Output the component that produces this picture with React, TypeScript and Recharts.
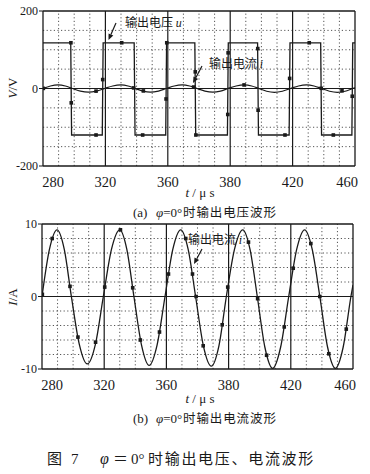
import React from 'react';
import { ComposedChart, Line, Scatter, XAxis, YAxis, ReferenceLine } from 'recharts';

// x axis (time) – evenly spaced major divisions, printed labels as in the figure
const xTicks = [280, 316, 352, 388, 424, 460];
const xTickLabels = ['280', '320', '360', '380', '420', '460'];
const xMinor = [289, 298, 307, 325, 334, 343, 361, 370, 379, 397, 406, 415, 433, 442, 451];
const xMajor = [316, 352, 388, 424];

// panel (a) voltage axis
const vTicks = [-200, 0, 200];
const vGrid = [-150, -100, -50, 50, 100, 150];
// panel (b) current axis
const iTicks = [-10, 0, 10];
const iGrid = [-8, -6, -4, -2, 2, 4, 6, 8];

// output voltage u (square wave)
const voltT = [280, 296, 296.5, 314.2, 314.7, 332.6, 333.1, 350.8, 351.3, 367.6, 368.1, 386.4, 386.9, 403.8, 404.3, 422.0, 422.5, 440.2, 440.7, 458.2, 458.7, 460];
const voltV = [118, 118, -120, -120, 118, 118, -120, -120, 118, 118, -120, -120, 118, 118, -120, -120, 118, 118, -120, -120, 118, 118];
const vMarkT = [296.1, 296.3, 310.6, 314.45, 325.4, 337.5, 351.0, 351.4, 367.85, 368.2, 386.6, 386.8, 403.9, 404.1, 419.6, 422.3, 433.6, 447.5, 458.4];
const vMarkV = [118, -37, -120, 23, 118, -120, -27, 118, 43, -120, -67, 92, 103, -56, -120, 26, 118, -120, -20];

// output current i
const curT = [
  280, 284.3, 288.7, 292.9, 297.0, 301.6, 306.2, 310.9,
  315.5, 320.2, 325.0, 329.1, 333.2, 337.6, 342.0, 346.6,
  351.2, 355.7, 360.3, 364.6, 368.9, 373.4, 378.0, 382.4,
  386.7, 391.4, 396.2, 400.4, 404.6, 409.0, 413.5, 418.1,
  422.8, 427.4, 432.0, 436.4, 440.8, 445.3, 449.8, 454.3,
  458.8, 460,
];
const curV = [
  0, 6.5, 9.2, 6.5, 0, -6.6, -9.3, -6.6,
  0, 6.5, 9.2, 6.5, 0, -6.7, -9.5, -6.7,
  0, 6.5, 9.2, 6.5, 0, -6.8, -9.6, -6.8,
  0, 6.5, 9.2, 6.5, 0, -7.0, -9.9, -7.0,
  0, 6.5, 9.2, 6.5, 0, -7.0, -9.9, -7.0,
  0, 1.6,
];
const iMarkT = [280.2, 285.9, 296.2, 300.8, 311.0, 316.3, 325.4, 332.5, 336.9, 348.0, 353.2, 363.2, 367.1, 369.2, 373.3, 384.3, 387.5, 399.5, 404.8, 410.0, 420.2, 425.4, 435.6, 440.8, 446.0, 456.1];
const iMarkV = [0.3, 8.0, 1.4, -5.6, -6.3, 1.3, 9.2, 1.2, -6.0, -4.9, 3.1, 8.0, 3.1, 0.0, -6.8, -3.9, 1.3, 7.5, -0.3, -8.1, -4.2, 3.9, 7.3, 0.0, -7.9, -4.5];
const iaMarkT = [280.2, 310.6, 332.3, 337.9, 366.9, 396.0, 440.5, 452.5];
const iaMarkV = [0.3, -6.8, 1.5, -6.3, 3.8, 9.2, 0.5, -6.0];

const voltData = voltT.map((t, i) => ({ t, y: voltV[i] }));
const curData = curT.map((t, i) => ({ t, y: curV[i] }));
const vMarks = vMarkT.map((t, i) => ({ t, y: vMarkV[i] }));
const iMarks = iMarkT.map((t, i) => ({ t, y: iMarkV[i] }));
const iaMarks = iaMarkT.map((t, i) => ({ t, y: iaMarkV[i] }));

const INK = '#1a1a1a';
const SERIF = "'Liberation Serif', 'DejaVu Serif', serif";
const MIX = "'Liberation Serif', 'Noto Sans CJK SC', serif";
const CJK = "'Noto Sans CJK SC', 'Liberation Serif', sans-serif";

const XTick = (props: any) => {
  const { x, y, payload } = props;
  const idx = xTicks.indexOf(payload.value);
  const n = xTicks.length;
  const dx = idx === 0 ? 10 : idx === n - 1 ? -8 : 0;
  return (
    <text x={x + dx} y={y + 19} textAnchor="middle" fontFamily={SERIF} fontSize={14.5} fill={INK}>
      {xTickLabels[idx]}
    </text>
  );
};

const Square = (props: any) => {
  const { cx, cy } = props;
  if (cx == null || cy == null) return null;
  return <rect x={cx - 1.8} y={cy - 1.8} width={3.6} height={3.6} fill={INK} />;
};

const gridLines = (hVals: number[], top: number) => (
  <>
    {xMinor.map((v) => (
      <ReferenceLine key={'xm' + v} x={v} stroke="#555" strokeWidth={1} strokeDasharray="1.2 2.4" />
    ))}
    {hVals.map((v) => (
      <ReferenceLine key={'hm' + v} y={v} stroke="#555" strokeWidth={1} strokeDasharray="1.2 2.4" />
    ))}
    {xMajor.map((v) => (
      <ReferenceLine key={'xM' + v} x={v} stroke={INK} strokeWidth={1.2} />
    ))}
    <ReferenceLine y={0} stroke={INK} strokeWidth={1.1} />
    <ReferenceLine y={top} stroke={INK} strokeWidth={1.3} />
    <ReferenceLine x={460} stroke={INK} strokeWidth={1.3} />
  </>
);

const Arrow = ({ x1, y1, x2, y2 }: { x1: number; y1: number; x2: number; y2: number }) => {
  const a = Math.atan2(y2 - y1, x2 - x1);
  const L = 6;
  const w = 2.6;
  const bx = x2 - L * Math.cos(a);
  const by = y2 - L * Math.sin(a);
  const px = -Math.sin(a) * w;
  const py = Math.cos(a) * w;
  return (
    <g>
      <line x1={x1} y1={y1} x2={bx} y2={by} stroke={INK} strokeWidth={1.2} />
      <polygon points={`${x2},${y2} ${bx + px},${by + py} ${bx - px},${by - py}`} fill={INK} />
    </g>
  );
};

export default function App() {
  return (
    <div style={{ position: 'absolute', left: 0, top: 0, width: 370, height: 474, background: '#fff', overflow: 'hidden' }}>
      {/* panel (a) */}
      <div style={{ position: 'absolute', left: 0, top: 0 }}>
        <ComposedChart width={370} height={200} margin={{ top: 11, right: 15, bottom: 14, left: 0 }}>
          <XAxis
            type="number"
            dataKey="t"
            domain={[280, 460]}
            ticks={xTicks}
            tick={<XTick />}
            tickLine={false}
            tickSize={0}
            axisLine={{ stroke: INK, strokeWidth: 1.3 }}
            height={20}
            allowDataOverflow
          />
          <YAxis
            type="number"
            dataKey="y"
            domain={[-200, 200]}
            ticks={vTicks}
            width={43}
            tickSize={4}
            tickMargin={1}
            tickLine={{ stroke: INK }}
            axisLine={{ stroke: INK, strokeWidth: 1.3 }}
            tick={{ fontFamily: SERIF, fontSize: 12, fill: INK }}
            allowDataOverflow
          />
          {gridLines(vGrid, 200)}
          <Line data={voltData} dataKey="y" type="linear" stroke={INK} strokeWidth={1.3} dot={false} isAnimationActive={false} />
          <Line data={curData} dataKey="y" type="monotone" stroke={INK} strokeWidth={1.2} dot={false} isAnimationActive={false} />
          <Scatter data={vMarks} dataKey="y" shape={<Square />} isAnimationActive={false} />
          <Scatter data={iaMarks} dataKey="y" shape={<Square />} isAnimationActive={false} />
        </ComposedChart>
      </div>

      {/* panel (b) */}
      <div style={{ position: 'absolute', left: 0, top: 214 }}>
        <ComposedChart width={370} height={189} margin={{ top: 10, right: 17, bottom: 14, left: 0 }}>
          <XAxis
            type="number"
            dataKey="t"
            domain={[280, 460]}
            ticks={xTicks}
            tick={<XTick />}
            tickLine={false}
            tickSize={0}
            axisLine={{ stroke: INK, strokeWidth: 1.3 }}
            height={20}
            allowDataOverflow
          />
          <YAxis
            type="number"
            dataKey="y"
            domain={[-10, 10]}
            ticks={iTicks}
            width={42}
            tickSize={4}
            tickMargin={1}
            tickLine={{ stroke: INK }}
            axisLine={{ stroke: INK, strokeWidth: 1.3 }}
            tick={{ fontFamily: SERIF, fontSize: 12, fill: INK }}
            allowDataOverflow
          />
          {gridLines(iGrid, 10)}
          <Line data={curData} dataKey="y" type="monotone" stroke={INK} strokeWidth={1.3} dot={false} isAnimationActive={false} />
          <Scatter data={iMarks} dataKey="y" shape={<Square />} isAnimationActive={false} />
        </ComposedChart>
      </div>

      {/* texts and annotations */}
      <svg width={370} height={474} style={{ position: 'absolute', left: 0, top: 0, pointerEvents: 'none' }}>
        {/* axis titles */}
        <text transform="translate(17,88) rotate(-90)" textAnchor="middle" fontFamily={SERIF} fontSize={13} fill={INK}>
          <tspan fontStyle="italic">V</tspan>/V
        </text>
        <text transform="translate(17,297) rotate(-90)" textAnchor="middle" fontFamily={SERIF} fontSize={13} fill={INK}>
          <tspan fontStyle="italic">I</tspan>/A
        </text>
        <text x={200} y={197} textAnchor="middle" fontFamily={SERIF} fontSize={13} fill={INK}>
          <tspan fontStyle="italic">t</tspan> / μ s
        </text>
        <text x={200} y={403} textAnchor="middle" fontFamily={SERIF} fontSize={13} fill={INK}>
          <tspan fontStyle="italic">t</tspan> / μ s
        </text>

        {/* sub captions */}
        <text y={217} fontFamily={MIX} fontSize={13} fill={INK}>
          <tspan x={133}>(a)</tspan>
          <tspan x={156} fontStyle="italic">φ</tspan>
          <tspan>=0°</tspan>
          <tspan x={183} fontFamily={CJK} fontSize={12.5} letterSpacing={0.9}>时输出电压波形</tspan>
        </text>
        <text y={423} fontFamily={MIX} fontSize={13} fill={INK}>
          <tspan x={133}>(b)</tspan>
          <tspan x={156} fontStyle="italic">φ</tspan>
          <tspan>=0°</tspan>
          <tspan x={183} fontFamily={CJK} fontSize={12.5} letterSpacing={0.9}>时输出电流波形</tspan>
        </text>

        {/* figure caption */}
        <text y={464} fontFamily={MIX} fontSize={15} fill={INK}>
          <tspan x={47} fontFamily={CJK}>图</tspan>
          <tspan x={71}>7</tspan>
          <tspan x={100} fontStyle="italic" fontSize={16}>φ</tspan>
          <tspan x={113} fontFamily={CJK}>＝</tspan>
          <tspan x={131}>0°</tspan>
          <tspan x={148} fontFamily={CJK} letterSpacing={1.7}>时输出电压、电流波形</tspan>
        </text>

        {/* annotations panel a */}
        <text x={125} y={27} fontFamily={CJK} fontSize={12} fill={INK}>
          输出电压 <tspan fontFamily={SERIF} fontStyle="italic">u</tspan>
        </text>
        <Arrow x1={116} y1={23} x2={108.5} y2={40} />
        <text x={209} y={68} fontFamily={CJK} fontSize={12} fill={INK}>
          输出电流 <tspan fontFamily={SERIF} fontStyle="italic">i</tspan>
        </text>
        <Arrow x1={202} y1={66} x2={193} y2={83} />

        {/* annotation panel b */}
        <text x={188} y={244} fontFamily={CJK} fontSize={12} fill={INK}>
          输出电流 <tspan fontFamily={SERIF} fontStyle="italic">i</tspan>
        </text>
        <Arrow x1={202} y1={249} x2={194} y2={264} />
      </svg>
    </div>
  );
}
